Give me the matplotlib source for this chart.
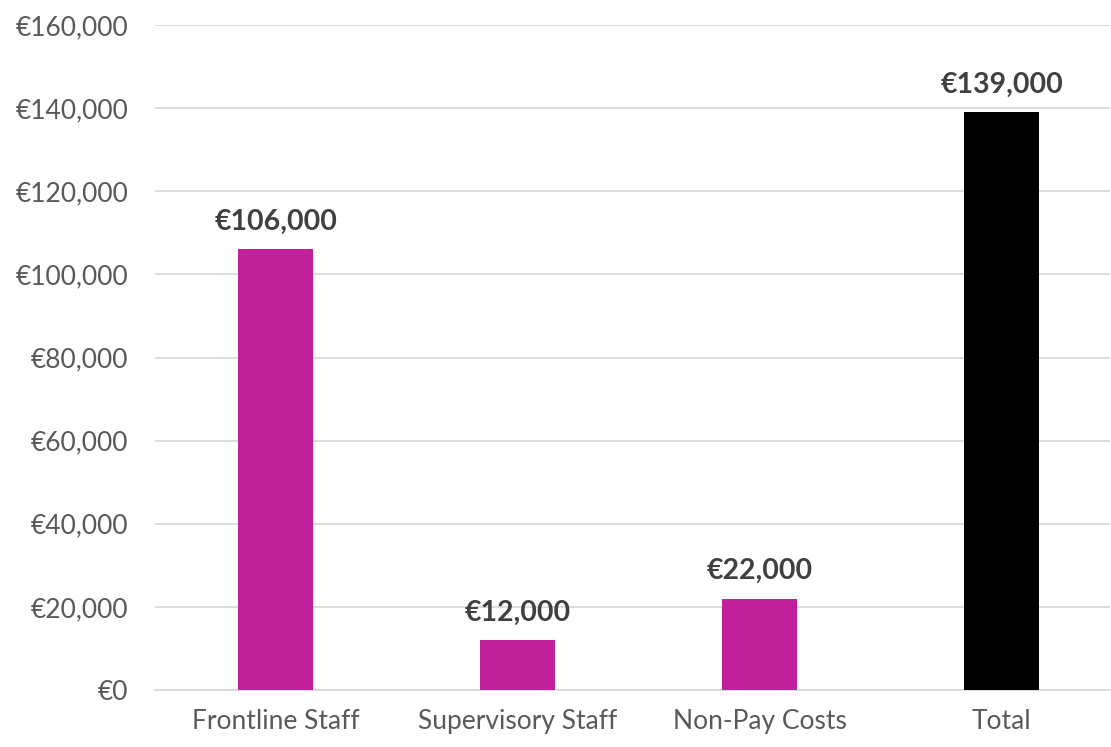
import matplotlib.pyplot as plt
from matplotlib.ticker import FuncFormatter

categories = ['Frontline Staff', 'Supervisory Staff', 'Non-Pay Costs', 'Total']
values = [106000, 12000, 22000, 139000]
colors = ['#C0209A', '#C0209A', '#C0209A', '#000000']
yticks = [0, 20000, 40000, 60000, 80000, 100000, 120000, 140000, 160000]

plt.rcParams['font.family'] = ['Lato', 'DejaVu Sans']

fig = plt.figure(figsize=(11.11, 7.47), dpi=100)
ax = fig.add_axes([0.1395, 0.0763, 0.86, 0.8902])

x = range(len(categories))
ax.bar(x, values, width=0.31, color=colors, zorder=3)

for xi, v in zip(x, values):
    ax.text(xi, v + 3500, f'€{v:,.0f}', ha='center', va='bottom',
            fontsize=20.5, fontweight='bold', color='#404040', zorder=4)

ax.set_xlim(-0.5, 3.45)
ax.set_ylim(0, 160000)
ax.set_yticks(yticks)
ax.yaxis.set_major_formatter(FuncFormatter(lambda v, p: f'€{v:,.0f}'))
ax.set_xticks(list(x))
ax.set_xticklabels(categories)
ax.tick_params(axis='y', length=0, labelsize=19, labelcolor='#595959', pad=19)
ax.tick_params(axis='x', length=0, labelsize=19, labelcolor='#595959', pad=14)

ax.grid(axis='y', color='#D9D9D9', linewidth=1.3, zorder=0)
for s in ['top', 'right', 'left']:
    ax.spines[s].set_visible(False)
ax.spines['bottom'].set_color('#D9D9D9')
ax.spines['bottom'].set_linewidth(1.3)

fig.savefig('out.png', dpi=100)
